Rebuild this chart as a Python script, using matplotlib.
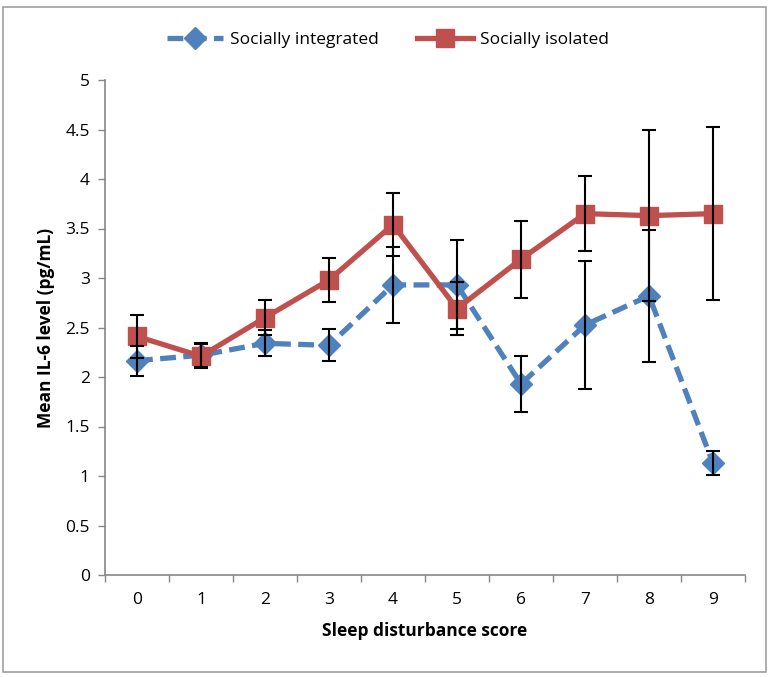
import matplotlib
matplotlib.use("Agg")
import matplotlib.pyplot as plt
from matplotlib.patches import Rectangle

scores = [0, 1, 2, 3, 4, 5, 6, 7, 8, 9]
integrated = [2.165, 2.22, 2.34, 2.32, 2.93, 2.93, 1.93, 2.525, 2.82, 1.13]
integrated_err = [0.15, 0.12, 0.13, 0.16, 0.385, 0.45, 0.28, 0.645, 0.665, 0.12]
isolated = [2.41, 2.21, 2.60, 2.98, 3.54, 2.69, 3.19, 3.65, 3.63, 3.65]
isolated_err = [0.22, 0.12, 0.18, 0.22, 0.32, 0.27, 0.39, 0.38, 0.86, 0.875]
yticks = [0, 0.5, 1, 1.5, 2, 2.5, 3, 3.5, 4, 4.5, 5]
ytick_labels = ["0", "0.5", "1", "1.5", "2", "2.5", "3", "3.5", "4", "4.5", "5"]

plt.rcParams['font.family'] = ['Open Sans', 'DejaVu Sans']

W, H = 770, 677
fig = plt.figure(figsize=(W / 100, H / 100), dpi=100)
fig.patches.append(Rectangle((3 / W, 5 / H), 763 / W, 665 / H, transform=fig.transFigure,
                             fill=False, edgecolor='#a0a0a0', linewidth=1.2))

ax = fig.add_axes([105 / W, 1 - 575 / H, 640 / W, 495 / H])

blue = '#4F81BD'
red = '#C0504D'

l1, = ax.plot(scores, integrated, color=blue, linestyle=(0, (3.0, 1.4)), linewidth=3.8,
              marker='D', markersize=11, markeredgecolor=blue, zorder=3,
              label='Socially integrated')
l2, = ax.plot(scores, isolated, color=red, linestyle='-', linewidth=3.8,
              marker='s', markersize=12.5, markeredgecolor=red, zorder=4,
              label='Socially isolated')
ax.errorbar(scores, integrated, yerr=integrated_err, fmt='none', ecolor='black',
            elinewidth=1.5, capsize=5, capthick=1.5, zorder=5)
ax.errorbar(scores, isolated, yerr=isolated_err, fmt='none', ecolor='black',
            elinewidth=1.5, capsize=5, capthick=1.5, zorder=5)

ax.set_xlim(-0.5, 9.5)
ax.set_ylim(0, 5)
ax.set_yticks(yticks)
ax.set_yticklabels(ytick_labels)
ax.set_xticks(scores)
ax.set_xticklabels([str(s) for s in scores])
ax.set_xticks([s - 0.5 for s in scores] + [9.5], minor=True)
ax.tick_params(axis='x', which='major', length=0, pad=12, labelsize=12.5)
ax.tick_params(axis='x', which='minor', length=5, direction='out', color='#888888', width=1)
ax.tick_params(axis='y', length=5, direction='out', color='#888888', width=1,
               labelsize=12.5, pad=6)

for s in ['top', 'right']:
    ax.spines[s].set_visible(False)
for s in ['left', 'bottom']:
    ax.spines[s].set_color('#888888')
    ax.spines[s].set_linewidth(1.2)

ax.set_xlabel('Sleep disturbance score', fontsize=12.5, fontweight='bold', labelpad=10)
ax.set_ylabel('Mean IL-6 level (pg/mL)', fontsize=12.5, fontweight='bold', labelpad=7)

fig.legend(handles=[l1, l2], loc='center', bbox_to_anchor=(388 / W, 1 - 40 / H), ncol=2,
           frameon=False, fontsize=12.5, handlelength=3.2, columnspacing=2.2,
           handletextpad=0.4)

fig.savefig('out.png', dpi=100)
